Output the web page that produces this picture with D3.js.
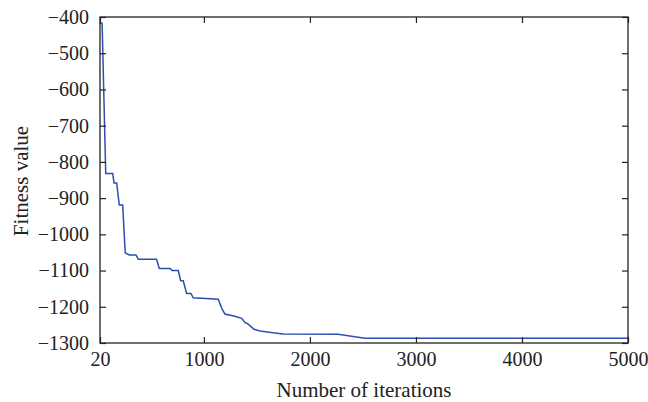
<!DOCTYPE html>
<html>
<head>
<meta charset="utf-8">
<script src="https://cdn.jsdelivr.net/npm/d3@7"></script>
<style>
  body { margin: 0; background: #fff; }
  svg text { font-family: "Liberation Serif", "DejaVu Serif", serif; fill: #222; }
</style>
</head>
<body>
<div id="chart"></div>
<script>
// fitness curve (iteration, fitness)
var iterations = [20, 40, 74, 140, 152, 177, 202, 234, 258, 296, 359, 381, 554, 579, 680, 701, 758, 781, 805, 837, 878, 899, 1135, 1170, 1198, 1293, 1356, 1387, 1418, 1472, 1528, 1653, 1748, 2266, 2518, 5000];
var fitness = [-417, -417, -832, -832, -858, -858, -919, -919, -1051, -1057, -1057, -1069, -1069, -1094, -1094, -1100, -1100, -1128, -1128, -1163, -1163, -1175, -1179, -1205, -1220, -1226, -1232, -1243, -1248, -1262, -1267, -1272, -1275, -1276, -1287, -1287];
var xTicks = [20, 1000, 2000, 3000, 4000, 5000];
var yTicks = [-1300, -1200, -1100, -1000, -900, -800, -700, -600, -500, -400];

var W = 648, H = 402;
var m = {left: 100, right: 20, top: 17, bottom: 59};
var iw = W - m.left - m.right, ih = H - m.top - m.bottom;

var svg = d3.select('#chart').append('svg').attr('width', W).attr('height', H);
var g = svg.append('g').attr('transform', 'translate(' + m.left + ',' + m.top + ')');

var x = d3.scaleLinear().domain([20, 5000]).range([0, iw]);
var y = d3.scaleLinear().domain([-1300, -400]).range([ih, 0]);

// line first, axes on top
var pts = iterations.map(function (d, i) { return [d, fitness[i]]; });
g.append('path')
  .datum(pts)
  .attr('fill', 'none')
  .attr('stroke', '#2b4fae')
  .attr('stroke-width', 1.5)
  .attr('d', d3.line().x(function (d) { return x(d[0]); }).y(function (d) { return y(d[1]); }));

var tl = 6;
function style(ax) {
  ax.select('.domain').remove();
  ax.selectAll('line').attr('stroke', '#222').attr('stroke-width', 1.2);
}

var xb = g.append('g').attr('transform', 'translate(0,' + ih + ')')
  .call(d3.axisBottom(x).tickValues(xTicks).tickFormat(d3.format('d')).tickSizeInner(-tl).tickSizeOuter(0).tickPadding(9));
style(xb);
xb.selectAll('text').attr('font-size', 20);

var xt = g.append('g')
  .call(d3.axisTop(x).tickValues(xTicks).tickFormat('').tickSizeInner(-tl).tickSizeOuter(0));
style(xt);

var yl = g.append('g')
  .call(d3.axisLeft(y).tickValues(yTicks).tickFormat(d3.format('d')).tickSizeInner(-tl).tickSizeOuter(0).tickPadding(11));
style(yl);
yl.selectAll('text').attr('font-size', 20);

var yr = g.append('g').attr('transform', 'translate(' + iw + ',0)')
  .call(d3.axisRight(y).tickValues(yTicks).tickFormat('').tickSizeInner(-tl).tickSizeOuter(0));
style(yr);

// box
g.append('rect').attr('width', iw).attr('height', ih)
  .attr('fill', 'none').attr('stroke', '#222').attr('stroke-width', 1.3);

svg.append('text')
  .attr('x', m.left + iw / 2).attr('y', 397)
  .attr('text-anchor', 'middle').attr('font-size', 21)
  .text('Number of iterations');

svg.append('text')
  .attr('transform', 'translate(28,' + 181 + ') rotate(-90)')
  .attr('text-anchor', 'middle').attr('font-size', 21)
  .text('Fitness value');
</script>
</body>
</html>
